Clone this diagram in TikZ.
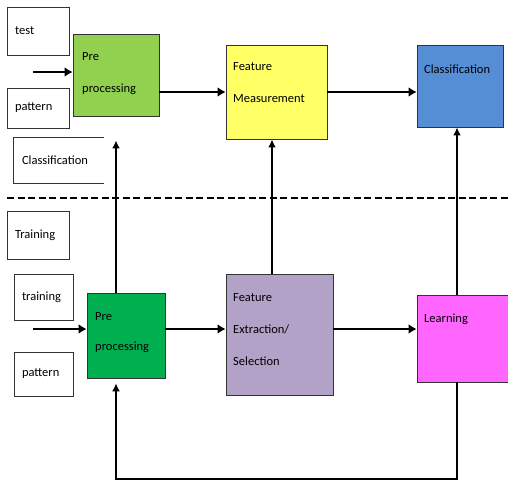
\documentclass[tikz,border=0pt]{standalone}
\usepackage{fontspec}
\setmainfont{Carlito}
\usetikzlibrary{arrows.meta}

\definecolor{preA}{HTML}{92D050}
\definecolor{preB}{HTML}{00B050}
\definecolor{measure}{HTML}{FFFF66}
\definecolor{classify}{HTML}{558ED5}
\definecolor{select}{HTML}{B3A2C7}
\definecolor{learn}{HTML}{FF66FF}

\begin{document}
\begin{tikzpicture}[x = 1pt, y = -1pt,
		box/.style = {draw = black!80, line width = 0.9pt, inner sep = 0pt},
		lbl/.style = {align = left, inner xsep = 8pt, inner ysep = 0pt, font = \fontsize{12.5}{14}\selectfont},
		txt/.style = {anchor = west, align = left, inner sep = 0pt, font = \fontsize{12.5}{32}\selectfont},
		flow/.style = {line width = 2.8pt, -{Latex[length = 8pt, width = 10pt]}},
		up/.style = {line width = 1.6pt, -{Latex[length = 8pt, width = 8pt]}}]
		\useasboundingbox (0, 0) rectangle (508, 482);
		% labels
		\node[box, lbl, text width = 46, minimum height = 48] (test) at (38, 31) {test};
		\node[box, lbl, text width = 46, minimum height = 40] (pat1) at (38, 108) {pattern};
		\node[lbl, text width = 74, minimum height = 45] (clsl) at (59, 160.5) {Classification};
		\draw[black!80, line width = 0.9pt] (clsl.north east) -| (clsl.south west) -- (clsl.south east);
		\node[box, lbl, text width = 46, minimum height = 48] (train) at (38, 235) {Training};
		\node[box, lbl, text width = 43, minimum height = 46] (tr) at (43.5, 297) {training};
		\node[box, lbl, text width = 43, minimum height = 44] (pat2) at (43.5, 374) {pattern};
		% top row
		\node[box, fill = preA, minimum width = 86, minimum height = 82] (pre1) at (116, 75) {};
		\node[txt] (pre1-t) at (82, 73.5) {Pre\\processing};
		\node[box, fill = measure, minimum width = 101, minimum height = 94] (fm) at (276.5, 92) {};
		\node[txt] (fm-t) at (233, 83) {Feature\\Measurement};
		\node[box, fill = classify, minimum width = 86, minimum height = 82] (cls) at (460, 86) {};
		\node[txt] (cls-t) at (424, 69) {Classification};
		% bottom row
		\node[box, fill = preB, minimum width = 78, minimum height = 85] (pre2) at (126, 335.5) {};
		\node[txt, font = \fontsize{12.5}{30}\selectfont] (pre2-t) at (95, 333) {Pre\\processing};
		\node[box, fill = select, minimum width = 107, minimum height = 121] (fes) at (279.5, 334.5) {};
		\node[txt] (fes-t) at (233, 330) {Feature\\Extraction/\\Selection};
		\node[box, fill = learn, minimum width = 93, minimum height = 87] (learn) at (463.5, 338.5) {};
		\node[txt] (learn-t) at (424, 319) {Learning};
		% separator
		\draw[line width = 2.8pt, dash pattern = on 7pt off 3.5pt] (7, 198) -- (508, 198);
		% inputs
		\coordinate (in1) at (33, 72);
		\coordinate (in2) at (33, 329);
		\draw[flow] (in1) -- (in1 -| pre1.west);
		\draw[flow] (in2) -- (in2 -| pre2.west);
		% flow
		\draw[flow] (fm.west -| pre1.east) -- (fm.west);
		\draw[flow] (fm.east) -- (fm.east -| cls.west);
		\draw[flow] (pre2.east |- in2) -- (fes.west |- in2);
		\draw[flow] (fes.east |- in2) -- (learn.west |- in2);
		% upward lines
		\coordinate (v2) at (272, 0);
		\coordinate (v3) at (457, 0);
		\coordinate (fb) at (116, 479);
		\draw[up, shorten >= 24pt] (pre2.north -| pre1.south) -- (pre1.south);
		\draw[up] (fes.north -| v2) -- (fm.south -| v2);
		\draw[up] (learn.north -| v3) -- (cls.south -| v3);
		% feedback
		\draw[up, line width = 1.3pt, shorten >= 5pt] (learn.south -| v3) |- (fb) -- (pre2.south -| fb);
	\end{tikzpicture}
\end{document}
